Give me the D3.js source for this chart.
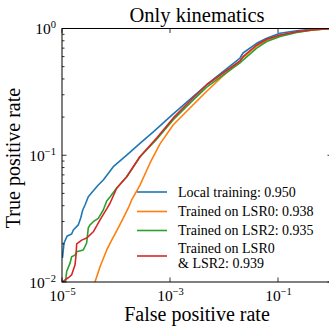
<!DOCTYPE html>
<html>
<head>
<meta charset="utf-8">
<script src="https://cdn.jsdelivr.net/npm/d3@7"></script>
<style>
html, body { margin: 0; padding: 0; background: #fff; }
svg { display: block; }
text { font-family: "Liberation Serif", "Times New Roman", serif; fill: #000; }
</style>
</head>
<body>
<svg id="chart" width="329" height="326"></svg>
<script>
// ---- Data ----
const title = "Only kinematics";
const xLabel = "False positive rate";
const yLabel = "True positive rate";
const xTickExps = [-5, -3, -1];
const yTickExps = [-2, -1, 0];

const seriesNames = ["Local training: 0.950", "Trained on LSR0: 0.938", "Trained on LSR2: 0.935", "Trained on LSR0\n& LSR2: 0.939"];
const seriesColors = ["#1f77b4", "#ff7f0e", "#2ca02c", "#d62728"];

const blueFpr = [1.02e-5, 1.09e-5, 1.25e-5, 1.51e-5, 1.62e-5, 2.00e-5, 2.22e-5, 2.42e-5, 2.67e-5, 3.07e-5, 3.80e-5, 4.70e-5, 5.82e-5, 8.91e-5, 1.58e-4, 2.78e-4, 4.91e-4, 1.15e-3, 4.78e-3, 1.98e-2, 2.25e-2, 4.03e-2, 6.18e-2, 0.109, 0.222, 0.445, 1];
const blueTpr = [0.0155, 0.0203, 0.0231, 0.0239, 0.0257, 0.0282, 0.0320, 0.0370, 0.0405, 0.0471, 0.0525, 0.0582, 0.0638, 0.0812, 0.1004, 0.124, 0.153, 0.212, 0.360, 0.585, 0.641, 0.764, 0.837, 0.917, 0.961, 0.991, 1];

const orangeFpr = [4.08e-5, 5.06e-5, 6.73e-5, 8.32e-5, 1.10e-4, 1.37e-4, 1.69e-4, 1.95e-4, 2.78e-4, 4.27e-4, 6.53e-4, 1.15e-3, 2.34e-3, 4.78e-3, 9.57e-3, 1.98e-2, 2.25e-2, 4.03e-2, 6.18e-2, 0.109, 0.222, 0.445, 1];
const orangeTpr = [0.0100, 0.0132, 0.0179, 0.0214, 0.0267, 0.0320, 0.0384, 0.0444, 0.0582, 0.0869, 0.123, 0.174, 0.236, 0.320, 0.422, 0.554, 0.590, 0.728, 0.811, 0.881, 0.938, 0.976, 1];

const greenFpr = [1.16e-5, 1.22e-5, 1.41e-5, 1.51e-5, 1.74e-5, 1.87e-5, 2.48e-5, 2.86e-5, 3.07e-5, 3.30e-5, 3.80e-5, 4.70e-5, 5.82e-5, 6.73e-5, 7.74e-5, 1.03e-4, 1.58e-4, 2.78e-4, 5.67e-4, 1.15e-3, 2.34e-3, 4.78e-3, 1.98e-2, 2.25e-2, 4.03e-2, 6.18e-2, 0.109, 0.222, 0.445, 1];
const greenTpr = [0.0100, 0.0121, 0.0141, 0.0158, 0.0163, 0.0173, 0.0179, 0.0203, 0.0267, 0.0282, 0.0299, 0.0318, 0.0370, 0.0436, 0.0469, 0.0552, 0.0677, 0.0969, 0.134, 0.191, 0.258, 0.345, 0.535, 0.564, 0.701, 0.789, 0.865, 0.930, 0.973, 1];

const redFpr = [1.02e-5, 1.14e-5, 1.31e-5, 1.51e-5, 1.74e-5, 1.82e-5, 1.87e-5, 2.32e-5, 2.86e-5, 3.80e-5, 5.06e-5, 6.73e-5, 7.74e-5, 1.03e-4, 1.58e-4, 2.78e-4, 5.67e-4, 1.15e-3, 2.34e-3, 4.78e-3, 1.98e-2, 2.25e-2, 4.03e-2, 6.18e-2, 0.109, 0.222, 0.445, 1];
const redTpr = [0.0100, 0.0104, 0.0108, 0.0114, 0.0136, 0.0163, 0.0200, 0.0214, 0.0222, 0.0249, 0.0309, 0.0377, 0.0418, 0.0549, 0.0677, 0.0977, 0.137, 0.197, 0.268, 0.360, 0.554, 0.600, 0.741, 0.822, 0.889, 0.944, 0.978, 1];

const seriesFpr = [blueFpr, orangeFpr, greenFpr, redFpr];
const seriesTpr = [blueTpr, orangeTpr, greenTpr, redTpr];

// ---- Layout ----
const svg = d3.select("#chart");
const mLeft = 62, mRight = 332, mTop = 28.5, mBottom = 282;

const x = d3.scaleLog().domain([1e-5, 1]).range([mLeft, mRight]);
const y = d3.scaleLog().domain([1e-2, 1]).range([mBottom, mTop]);

svg.append("defs").append("clipPath").attr("id", "clip")
  .append("rect").attr("x", mLeft).attr("y", mTop).attr("width", mRight - mLeft).attr("height", mBottom - mTop);

// curves
const line = d3.line().x(d => x(d[0])).y(d => y(d[1]));
const g = svg.append("g").attr("clip-path", "url(#clip)");
seriesFpr.forEach((fpr, i) => {
  const pts = fpr.map((f, j) => [f, seriesTpr[i][j]]);
  g.append("path").datum(pts)
    .attr("d", line)
    .attr("fill", "none")
    .attr("stroke", seriesColors[i])
    .attr("stroke-width", 1.6)
    .attr("stroke-linejoin", "round");
});

// frame
svg.append("rect").attr("x", mLeft).attr("y", mTop).attr("width", mRight - mLeft).attr("height", mBottom - mTop)
  .attr("fill", "none").attr("stroke", "#000").attr("stroke-width", 1);

// ticks (inward, all sides)
const majorLen = 4.5, minorLen = 2.5;
const xMajor = xTickExps.map(e => Math.pow(10, e));
const yMajor = yTickExps.map(e => Math.pow(10, e));
const yMinor = [];
for (let e = -2; e < 0; e++) for (let k = 2; k <= 9; k++) yMinor.push(k * Math.pow(10, e));

const tk = svg.append("g").attr("stroke", "#000").attr("stroke-width", 0.8);
xMajor.forEach(v => {
  tk.append("line").attr("x1", x(v)).attr("x2", x(v)).attr("y1", mBottom).attr("y2", mBottom - majorLen);
  tk.append("line").attr("x1", x(v)).attr("x2", x(v)).attr("y1", mTop).attr("y2", mTop + majorLen);
});
yMajor.forEach(v => {
  tk.append("line").attr("x1", mLeft).attr("x2", mLeft + majorLen).attr("y1", y(v)).attr("y2", y(v));
  tk.append("line").attr("x1", mRight).attr("x2", mRight - majorLen).attr("y1", y(v)).attr("y2", y(v));
});
yMinor.forEach(v => {
  tk.append("line").attr("x1", mLeft).attr("x2", mLeft + minorLen).attr("y1", y(v)).attr("y2", y(v));
  tk.append("line").attr("x1", mRight).attr("x2", mRight - minorLen).attr("y1", y(v)).attr("y2", y(v));
});

// tick labels
function powLabel(sel, e) {
  sel.append("tspan").text("10");
  sel.append("tspan").attr("dy", -6).attr("font-size", "10.5px").text(e < 0 ? "\u2212" + (-e) : String(e));
}
xTickExps.forEach(e => {
  const t = svg.append("text").attr("x", x(Math.pow(10, e)) + 0.5).attr("y", 300.5)
    .attr("text-anchor", "middle").attr("font-size", "15.5px");
  powLabel(t, e);
});
yTickExps.forEach(e => {
  const t = svg.append("text").attr("x", 56).attr("y", y(Math.pow(10, e)) + 5.5)
    .attr("text-anchor", "end").attr("font-size", "15.5px");
  powLabel(t, e);
});

// title and axis labels
svg.append("text").attr("x", 197).attr("y", 22).attr("text-anchor", "middle")
  .attr("font-size", "20.5px").text(title);
svg.append("text").attr("x", 197).attr("y", 321).attr("text-anchor", "middle")
  .attr("font-size", "20px").text(xLabel);
svg.append("text").attr("transform", "translate(20,158) rotate(-90)").attr("text-anchor", "middle")
  .attr("font-size", "20px").text(yLabel);

// legend
const legY = [192, 211.5, 230.5, 256];
const lineGap = 15.6;
const leg = svg.append("g");
seriesNames.forEach((name, i) => {
  leg.append("line").attr("x1", 137).attr("x2", 167).attr("y1", legY[i]).attr("y2", legY[i])
    .attr("stroke", seriesColors[i]).attr("stroke-width", 1.6);
  const lines = name.split("\n");
  const startY = legY[i] + 4.6 - (lines.length - 1) * lineGap / 2;
  const t = leg.append("text").attr("x", 178).attr("y", startY).attr("font-size", "14px");
  lines.forEach((ln, k) => {
    t.append("tspan").attr("x", 178).attr("dy", k === 0 ? 0 : lineGap).text(ln);
  });
});
</script>
</body>
</html>
